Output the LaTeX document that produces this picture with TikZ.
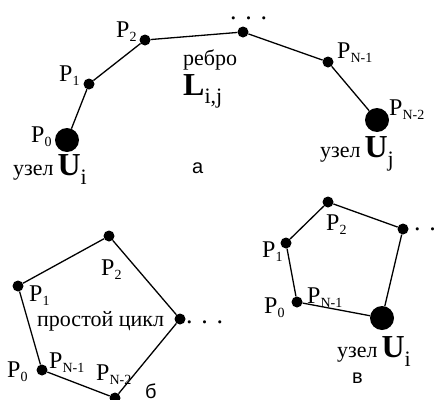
\documentclass[tikz,border=0pt]{standalone}
\usepackage{fontspec}
\setmainfont{Liberation Serif}
\newfontfamily\sansfam{Liberation Sans}
\newcommand\mypt[1]{{\fontsize{24}{24}\selectfont P}\raisebox{-4.5pt}{\fontsize{14}{14}\selectfont #1}}
\newcommand\myuzel[1]{{\fontsize{22}{22}\selectfont узел}\hspace{4pt}{\fontsize{32}{32}\selectfont\bfseries U}\raisebox{-9pt}{\fontsize{22}{22}\selectfont #1}}
\newcommand\mydots{{\fontsize{26}{26}\selectfont . . .}}
\begin{document}
\begin{tikzpicture}[x=1pt,y=-1pt,
  lbl/.style={inner sep=0, anchor=base west},
  sdot/.style={circle, fill=black, inner sep=0, minimum size=11pt},
  bdot/.style={circle, fill=black, inner sep=0, minimum size=24pt},
  edge/.style={line width=1.3pt}]
\useasboundingbox (0,0) rectangle (439,399);
% part a
\node[bdot] (a0) at (67,140) {};
\node[sdot] (a1) at (89,84) {};
\node[sdot] (a2) at (145,40) {};
\node[sdot] (a3) at (243,32) {};
\node[sdot] (a4) at (328,62) {};
\node[bdot] (a5) at (377,120) {};
\draw[edge] (a0) -- (a1) -- (a2) -- (a3) -- (a4) -- (a5);
\node[lbl] (la0) at (31,142) {\mypt{0}};
\node[lbl] (la1) at (59,81) {\mypt{1}};
\node[lbl] (la2) at (116,37) {\mypt{2}};
\node[lbl] (la3) at (230,19.5) {\mydots};
\node[lbl] (la4) at (337,58) {\mypt{N-1}};
\node[lbl] (la5) at (389,115) {\mypt{N-2}};
\node[lbl] (ui) at (13,175) {\myuzel{i}};
\node[lbl] (uj) at (320,157) {\myuzel{j}};
\node[lbl] (reb) at (183,65) {\fontsize{22}{22}\selectfont ребро};
\node[lbl] (lij) at (183,95) {{\fontsize{32}{32}\selectfont\bfseries L}\raisebox{-8pt}{\fontsize{22}{22}\selectfont i,j}};
\node[lbl] (capa) at (192,173) {\sansfam\fontsize{20}{20}\selectfont а};
% part b
\node[sdot] (b1) at (18,286) {};
\node[sdot] (b2) at (109,236) {};
\node[sdot] (b3) at (180,319) {};
\node[sdot] (b4) at (115,398) {};
\node[sdot] (b0) at (42,370) {};
\draw[edge] (b0) -- (b1) -- (b2) -- (b3) -- (b4) -- (b0);
\node[lbl] (lb2) at (101,275) {\mypt{2}};
\node[lbl] (lb1) at (29,301) {\mypt{1}};
\node[lbl] (lb0) at (7,377) {\mypt{0}};
\node[lbl] (lbn1) at (49,368) {\mypt{N-1}};
\node[lbl] (lbn2) at (96,380) {\mypt{N-2}};
\node[lbl] (cyc) at (37,326) {\fontsize{22}{22}\selectfont простой цикл};
\node[lbl] (lb3) at (186,323.5) {\mydots};
\node[lbl] (capb) at (145,398) {\sansfam\fontsize{20}{20}\selectfont б};
% part v
\node[sdot] (c2) at (328,202) {};
\node[sdot] (c3) at (403,229) {};
\node[sdot] (c1) at (286,243) {};
\node[sdot] (c0) at (297,302) {};
\node[bdot] (cu) at (382,318) {};
\draw[edge] (c0) -- (c1) -- (c2) -- (c3) -- (cu) -- (c0);
\node[lbl] (lc2) at (326,230) {\mypt{2}};
\node[lbl] (lc1) at (262,257) {\mypt{1}};
\node[lbl] (lc0) at (264,313) {\mypt{0}};
\node[lbl] (lcn1) at (307,303) {\mypt{N-1}};
\node[lbl] (lc3) at (414,230.5) {\mydots};
\node[lbl] (uci) at (337,357) {\myuzel{i}};
\node[lbl] (capv) at (352,383) {\sansfam\fontsize{20}{20}\selectfont в};
\end{tikzpicture}
\end{document}
